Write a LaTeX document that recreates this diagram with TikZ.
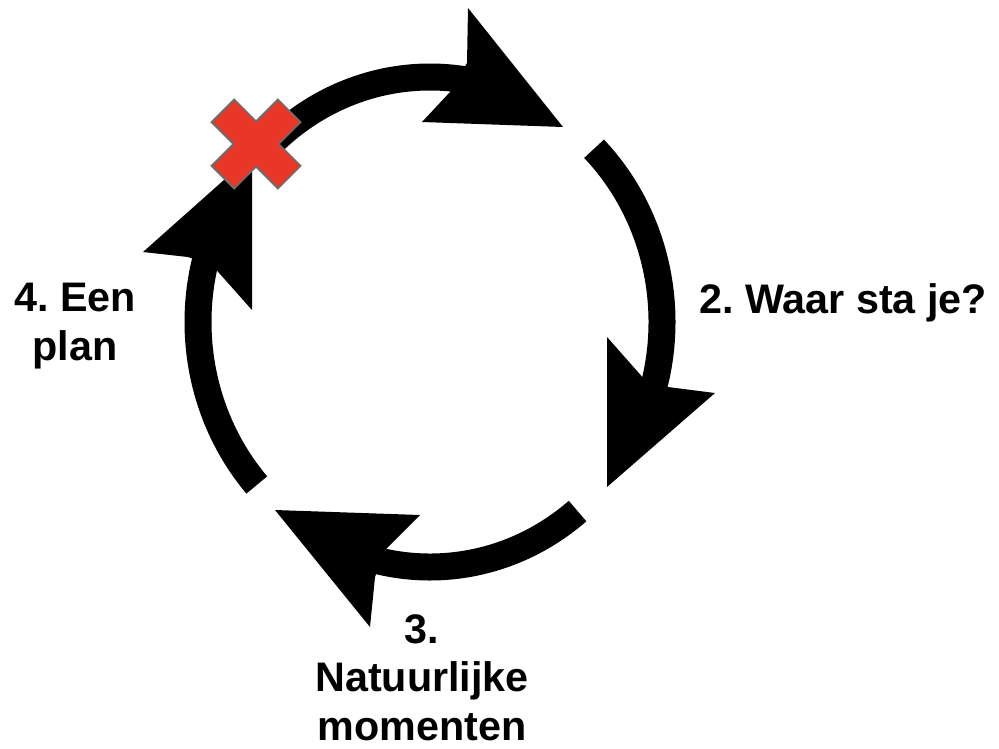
\documentclass[tikz,border=0pt]{standalone}
\usepackage{fontspec}
\setmainfont{Liberation Sans}
\frenchspacing
\definecolor{crossred}{RGB}{232,54,40}
\definecolor{crossline}{RGB}{110,110,110}

\begin{document}
\begin{tikzpicture}[x=0.02cm,y=0.02cm,
    ring/.style={line width=0.54cm},
    tipfill/.style={fill=black},
    crossmark/.style={fill=crossred, draw=crossline, line width=1pt},
    cyclelabel/.style={font=\fontsize{23.5}{27.5}\selectfont\bfseries, align=center, inner sep=0pt}]
  \useasboundingbox (0,0) rectangle (999,-748);
  \coordinate (c) at (430,-322);

  % the four arcs of the cycle
  \draw[ring] (c) ++(136:232 and 245) arc[start angle=136, end angle=80, x radius=232, y radius=245];
  \draw[ring] (c) ++(45:232 and 245) arc[start angle=45, end angle=-18, x radius=232, y radius=245];
  \draw[ring] (c) ++(-50.5:232 and 245) arc[start angle=-50.5, end angle=-106, x radius=232, y radius=245];
  \draw[ring] (c) ++(221.7:232 and 245) arc[start angle=221.7, end angle=162, x radius=232, y radius=245];

  % arrow heads
  \fill[tipfill] (467,-63) -- (468,-8) -- (563,-127) -- (422,-122) -- (450,-92) -- cycle;
  \fill[tipfill] (645,-380) -- (607,-337) -- (607,-487) -- (715,-393) -- (668,-387) -- cycle;
  \fill[tipfill] (385,-550) -- (420,-515) -- (275,-510) -- (370,-627) -- (375,-577) -- cycle;
  \fill[tipfill] (188,-257) -- (143,-252) -- (252,-155) -- (252,-310) -- (212,-265) -- cycle;

  % red cross
  \begin{scope}[shift={(256,-144)}, rotate=45]
    \filldraw[crossmark] (-16,-47) -- (16,-47) -- (16,-16) -- (47,-16) -- (47,16) -- (16,16) -- (16,47)
      -- (-16,47) -- (-16,16) -- (-47,16) -- (-47,-16) -- (-16,-16) -- cycle;
  \end{scope}

  \node[cyclelabel, anchor=base west] (where) at (699,-313) {2. Waar sta je?};
  \node[cyclelabel, anchor=base] (moments) at (422,-740) {3.\\Natuurlijke\\momenten};
  \node[cyclelabel, anchor=base] (plan) at (75,-360) {4. Een\\plan};
\end{tikzpicture}
\end{document}
